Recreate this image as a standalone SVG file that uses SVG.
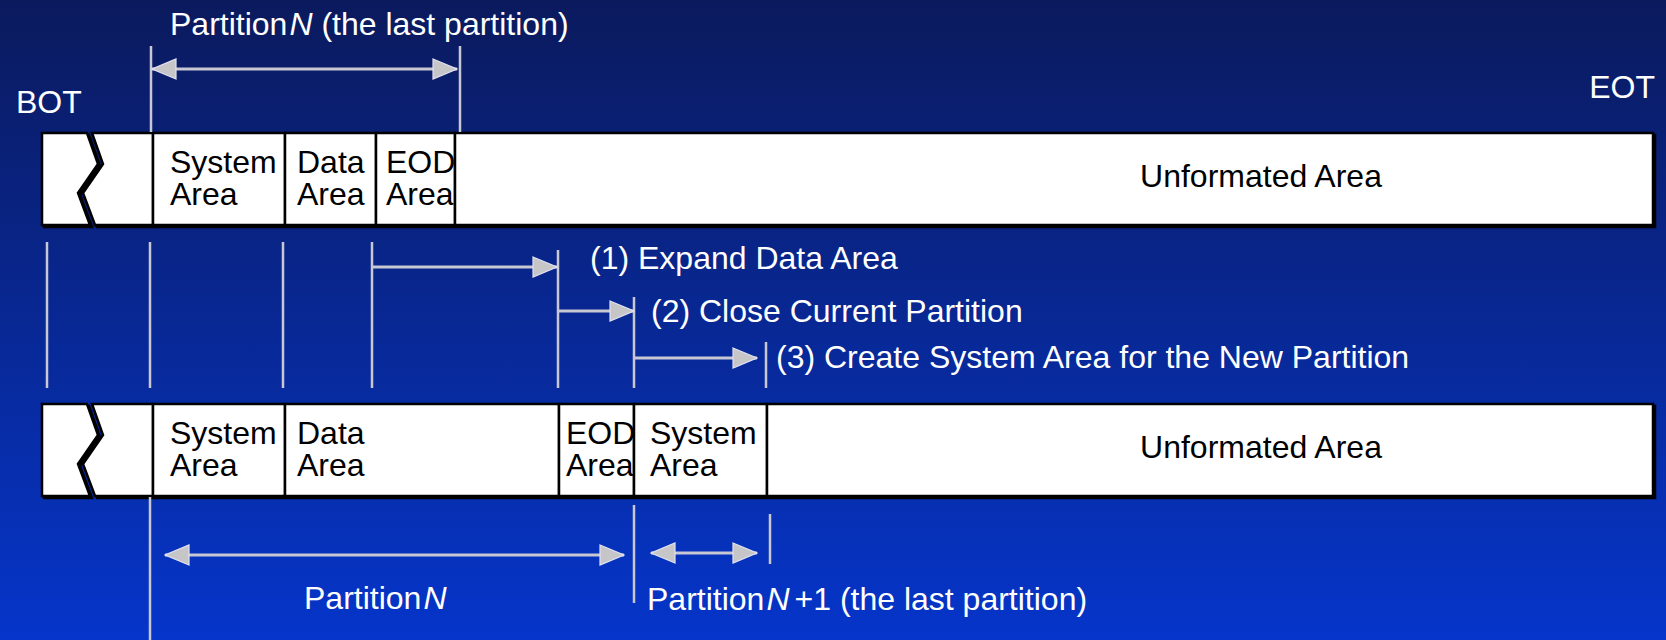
<svg xmlns="http://www.w3.org/2000/svg" width="1666" height="640" viewBox="0 0 1666 640">
  <defs>
    <linearGradient id="bg" x1="0" y1="0" x2="0" y2="1">
      <stop offset="0" stop-color="#0b1a5d"/>
      <stop offset="1" stop-color="#0535ca"/>
    </linearGradient>
    <marker id="head" viewBox="0 0 26 22" refX="25" refY="11" markerWidth="26" markerHeight="22" markerUnits="userSpaceOnUse" orient="auto-start-reverse">
      <path d="M1,1 L25,11 L1,21 Z" fill="#c6c6c8" stroke="#e2e2f2" stroke-width="1.2"/>
    </marker>
    <style>
      .cell { fill: #ffffff; stroke: #000000; stroke-width: 2.5; }
      .shadow { fill: #000000; stroke: #000000; stroke-width: 2.5; }
      .txt { font-family: "Liberation Sans", Arial, sans-serif; font-size: 32px; fill: #000000; }
      .lbl { font-family: "Liberation Sans", Arial, sans-serif; font-size: 32px; fill: #ffffff; }
      .guide { stroke: #c8c8d4; stroke-width: 2.5; fill: none; }
      .arrow { stroke: #c8c8d4; stroke-width: 3; fill: none; marker-end: url(#head); }
      .darrow { stroke: #c8c8d4; stroke-width: 3; fill: none; marker-start: url(#head); marker-end: url(#head); }
    </style>
    <!-- tape cells, drawn relative to the tape's top edge -->
    <path id="zigL" d="M42,0 L87,0 L98,31 L78,60 L90,92 L42,92 Z"/>
    <path id="zigR" d="M92,0 L153,0 L153,92 L95,92 L83,60 L103,31 Z"/>
  </defs>

  <rect width="1666" height="640" fill="url(#bg)"/>

  <!-- end-of-tape labels -->
  <g id="bot-label"><text class="lbl" x="16" y="113">BOT</text></g>
  <g id="eot-label"><text class="lbl" x="1655" y="98" text-anchor="end">EOT</text></g>

  <!-- upper tape: before the new partition is created -->
  <g id="tape-before" transform="translate(0,133)">
    <g id="before-shadow" class="shadow" transform="translate(2,2)">
      <use href="#zigL"/><use href="#zigR"/>
      <rect x="153" y="0" width="1500" height="92"/>
    </g>
    <g id="before-lead-in">
      <use href="#zigL" class="cell"/>
      <use href="#zigR" class="cell"/>
    </g>
    <g id="before-system">
      <rect class="cell" x="153" y="0" width="132" height="92"/>
      <text class="txt" x="170" y="40">System</text>
      <text class="txt" x="170" y="72">Area</text>
    </g>
    <g id="before-data">
      <rect class="cell" x="285" y="0" width="91" height="92"/>
      <text class="txt" x="297" y="40">Data</text>
      <text class="txt" x="297" y="72">Area</text>
    </g>
    <g id="before-eod">
      <rect class="cell" x="376" y="0" width="79" height="92"/>
      <text class="txt" x="386" y="40">EOD</text>
      <text class="txt" x="386" y="72">Area</text>
    </g>
    <g id="before-unformatted">
      <rect class="cell" x="455" y="0" width="1198" height="92"/>
      <text class="txt" x="1261" y="54" text-anchor="middle">Unformated Area</text>
    </g>
  </g>

  <!-- lower tape: after the new partition is created -->
  <g id="tape-after" transform="translate(0,404)">
    <g id="after-shadow" class="shadow" transform="translate(2,2)">
      <use href="#zigL"/><use href="#zigR"/>
      <rect x="153" y="0" width="1500" height="92"/>
    </g>
    <g id="after-lead-in">
      <use href="#zigL" class="cell"/>
      <use href="#zigR" class="cell"/>
    </g>
    <g id="after-system">
      <rect class="cell" x="153" y="0" width="132" height="92"/>
      <text class="txt" x="170" y="40">System</text>
      <text class="txt" x="170" y="72">Area</text>
    </g>
    <g id="after-data">
      <rect class="cell" x="285" y="0" width="274" height="92"/>
      <text class="txt" x="297" y="40">Data</text>
      <text class="txt" x="297" y="72">Area</text>
    </g>
    <g id="after-eod">
      <rect class="cell" x="559" y="0" width="75" height="92"/>
      <text class="txt" x="566" y="40">EOD</text>
      <text class="txt" x="566" y="72">Area</text>
    </g>
    <g id="after-system-new">
      <rect class="cell" x="634" y="0" width="133" height="92"/>
      <text class="txt" x="650" y="40">System</text>
      <text class="txt" x="650" y="72">Area</text>
    </g>
    <g id="after-unformatted">
      <rect class="cell" x="767" y="0" width="886" height="92"/>
      <text class="txt" x="1261" y="54" text-anchor="middle">Unformated Area</text>
    </g>
  </g>

  <!-- step labels -->
  <g id="step1"><text class="lbl" x="590" y="269">(1) Expand Data Area</text></g>
  <g id="step2"><text class="lbl" x="651" y="322">(2) Close Current Partition</text></g>
  <g id="step3"><text class="lbl" x="776" y="368">(3) Create System Area for the New Partition</text></g>

  <!-- partition extent labels -->
  <g id="label-partition-n-last">
    <text class="lbl" x="170" y="35">Partition<tspan font-style="italic" dx="2">N</tspan> (the last partition)</text>
  </g>
  <g id="label-partition-n">
    <text class="lbl" x="304" y="609">Partition<tspan font-style="italic" dx="2">N</tspan></text>
  </g>
  <g id="label-partition-n1">
    <text class="lbl" x="647" y="610">Partition<tspan font-style="italic" dx="2">N</tspan><tspan dx="5">+1 (the last partition)</tspan></text>
  </g>

  <g id="connectors">
    <!-- extent of partition N on the upper tape -->
    <line class="guide" x1="151" y1="46" x2="151" y2="132"/>
    <line class="guide" x1="460" y1="46" x2="460" y2="132"/>
    <line class="darrow" x1="152" y1="69" x2="457" y2="69"/>

    <!-- boundary guides between the tapes -->
    <line class="guide" x1="47" y1="242" x2="47" y2="388"/>
    <line class="guide" x1="150" y1="242" x2="150" y2="388"/>
    <line class="guide" x1="283" y1="242" x2="283" y2="388"/>
    <line class="guide" x1="372" y1="242" x2="372" y2="388"/>
    <line class="guide" x1="558" y1="250" x2="558" y2="388"/>
    <line class="guide" x1="634" y1="297" x2="634" y2="388"/>
    <line class="guide" x1="766" y1="342" x2="766" y2="388"/>

    <!-- steps -->
    <line class="arrow" x1="372" y1="267" x2="557" y2="267"/>
    <line class="arrow" x1="558" y1="311" x2="634" y2="311"/>
    <line class="arrow" x1="634" y1="358" x2="757" y2="358"/>

    <!-- extents on the lower tape -->
    <line class="guide" x1="150" y1="497" x2="150" y2="640"/>
    <line class="guide" x1="634" y1="505" x2="634" y2="603"/>
    <line class="guide" x1="770" y1="514" x2="770" y2="564"/>
    <line class="darrow" x1="165" y1="555" x2="624" y2="555"/>
    <line class="darrow" x1="651" y1="553" x2="757" y2="553"/>
  </g>
</svg>
